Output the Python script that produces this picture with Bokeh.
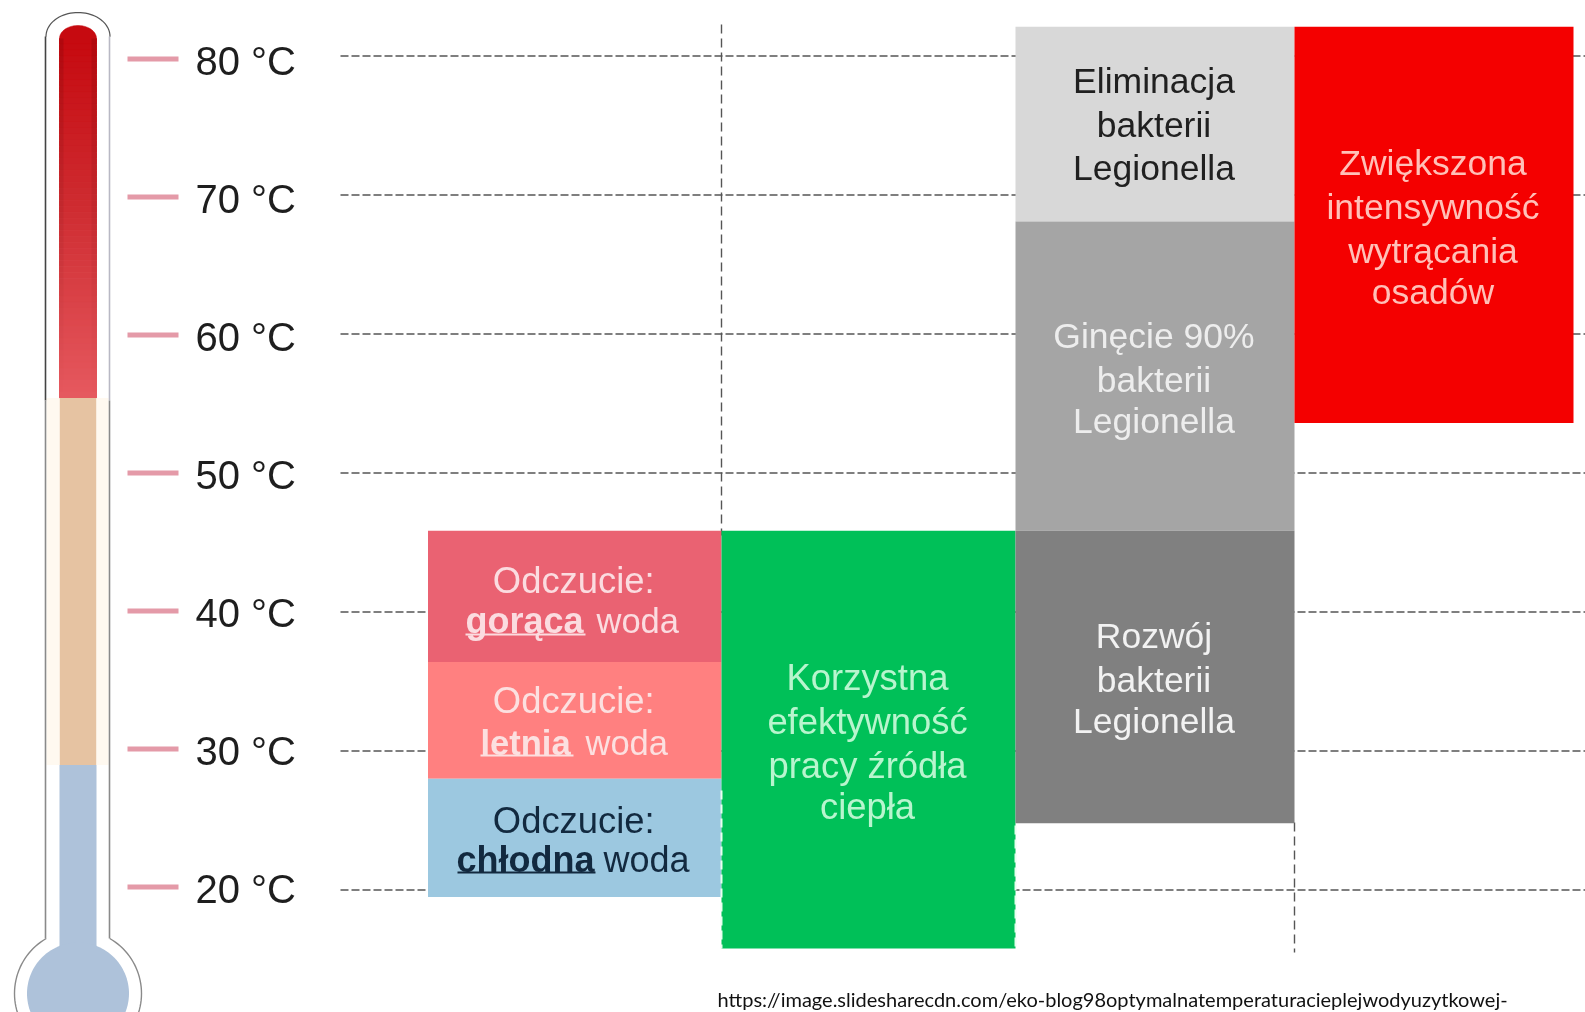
import math
from bokeh.plotting import figure
from bokeh.models import Range1d
from bokeh.core.properties import value
from bokeh.embed import file_html
from bokeh.resources import INLINE

# ---- data (temperatures in deg C) ----
tick_temps = [80, 70, 60, 50, 40, 30, 20]
tick_labels = ["80 °C", "70 °C", "60 °C", "50 °C", "40 °C", "30 °C", "20 °C"]

column_names = ["odczucie", "zrodlo", "legionella", "osady"]
column_left = [427.5, 721, 1015, 1294]
column_right = [721, 1015, 1294, 1573]

box_column = [0, 0, 0, 1, 2, 2, 2, 3]
box_top = [45.85, 36.4, 28.0, 45.85, 82.1, 68.1, 45.85, 82.1]
box_bottom = [36.4, 28.0, 19.5, 15.8, 68.1, 45.85, 24.8, 53.6]
box_color = ["#EA6272", "#FF8080", "#9CC8E0", "#00C058", "#D8D8D8", "#A5A5A5", "#808080", "#F40000"]

thermo_levels = [83.0, 55.4, 29.0, 11.0]
thermo_stops_hot = ["#C60A10", "#CE2B30", "#E65A60"]
thermo_warm = "#E6C3A2"
thermo_cold = "#AEC2DA"

W, H = 1585, 1012
PX_PER_DEG = 13.9
Y20 = 889.5


def T(py):
    return 20 + (Y20 - py) / PX_PER_DEG


p = figure(width=W, height=H, output_backend="svg", toolbar_location=None,
           x_range=Range1d(0, W), y_range=Range1d(T(H), T(0)),
           min_border=0, outline_line_color=None)
p.axis.visible = False
p.grid.visible = False
p.background_fill_color = "#FFFFFF"
p.border_fill_color = "#FFFFFF"
p.styles = {"position": "fixed", "left": "0px", "top": "0px"}

FONT = value("Liberation Sans")
GRID = "#555555"
DASH = "8 3"

# grid lines
p.segment(x0=[340] * 7, x1=[W] * 7, y0=tick_temps, y1=tick_temps,
          line_color=GRID, line_width=1.5, line_dash=DASH)
# vertical guides
p.segment(x0=[721, 1294], x1=[721, 1294],
          y0=[T(24), T(822)], y1=[T(535), T(952)],
          line_color=GRID, line_width=1.4, line_dash="9 5")

# boxes
p.quad(left=[column_left[c] for c in box_column],
       right=[column_right[c] for c in box_column],
       top=box_top, bottom=box_bottom, fill_color=box_color, line_color=None)
# dashed light edges of the green box
p.segment(x0=[721, 1015], x1=[721, 1015], y0=[T(790), T(825)], y1=[T(948), T(948)],
          line_color="#E8FFF0", line_width=2, line_dash="9 5")

# thermometer scale marks and labels (the scale sits slightly off the grid)
tick_py = [58.6 + (80 - t) * 13.8 for t in tick_temps]
label_py = [60.6 + (80 - t) * 13.8 for t in tick_temps]
p.segment(x0=[127] * 7, x1=[178] * 7, y0=[T(v) for v in tick_py], y1=[T(v) for v in tick_py],
          line_color="#E49AA8", line_width=5)
p.text(x=[195] * 7, y=[T(v) for v in label_py], text=tick_labels,
       text_font=FONT, text_font_size="40px", text_color="#1E1E1E",
       text_align="left", text_baseline="middle")

# thermometer fill
cx = 77.5
half = 18.5
n = 60
h1 = thermo_levels[1]
rgb = [tuple(int(s[i:i + 2], 16) for i in (1, 3, 5)) for s in thermo_stops_hot]
tops, bots, cols, side = [], [], [], []
ystart = T(38)
for i in range(n):
    a = i / n
    tops.append(ystart + (h1 - ystart) * a)
    bots.append(ystart + (h1 - ystart) * (i + 1) / n)
    seg = 0 if a < 0.45 else 1
    f = a / 0.45 if seg == 0 else (a - 0.45) / 0.55
    cols.append("#%02X%02X%02X" % tuple(round(rgb[seg][k] + (rgb[seg + 1][k] - rgb[seg][k]) * f) for k in range(3)))
    side.append(0.10 * (1 - a))
p.quad(left=cx - half, right=cx + half, top=tops, bottom=bots, fill_color=cols, line_color=cols, line_width=1)
angs = [math.pi * i / 40 for i in range(41)]
p.patch([cx + half * math.cos(a) for a in angs],
        [T(38 - 13 * math.sin(a)) for a in angs],
        fill_color=thermo_stops_hot[0], line_color=thermo_stops_hot[0], line_width=0.5)
# darker sides of the red part, fading downwards
p.quad(left=cx - half, right=cx - half + 4, top=tops, bottom=bots,
       fill_color="#000000", fill_alpha=side, line_color=None)
p.quad(left=cx + half - 5, right=cx + half, top=tops, bottom=bots,
       fill_color="#000000", fill_alpha=side, line_color=None)
p.quad(left=cx - half, right=cx + half, top=thermo_levels[1], bottom=thermo_levels[2],
       fill_color=thermo_warm, line_color=None)
p.quad(left=cx - half, right=cx + half, top=thermo_levels[2], bottom=thermo_levels[3],
       fill_color=thermo_cold, line_color=None)
# warm halo
p.quad(left=[46, cx + half], right=[cx - half, 108], top=thermo_levels[1], bottom=thermo_levels[2],
       fill_color="#FFF9F0", line_color=None)

# bulb
bulb_y = 993
b_angs = [math.radians(a) for a in range(-52, 233, 3)]
p.patch([cx + 51 * math.cos(a) for a in b_angs], [T(bulb_y - 51 * math.sin(a)) for a in b_angs],
        fill_color=thermo_cold, line_color=None)
bulb_r = 63.5
# tube outline
top_angs = [math.pi * i / 40 for i in range(41)]
tube_x = [109] + [cx + 32 * math.cos(a) for a in top_angs] + [45]
tube_y = [T(36)] + [T(36 - 24 * math.sin(a)) for a in top_angs] + [T(36)]
p.line(tube_x, tube_y, line_color="#555555", line_width=1.2)
p.segment(x0=[45, 45], x1=[45, 45], y0=[T(36), T(400)], y1=[T(400), T(938)],
          line_color=["#444444", "#8A8A8A"], line_width=1.6)
p.segment(x0=[109, 109], x1=[109, 109], y0=[T(36), T(400)], y1=[T(400), T(938)],
          line_color=["#B8B8C4", "#8A8A8A"], line_width=1.6)
left_arc = [math.radians(a) for a in range(120, 232, 3)]
right_arc = [math.radians(a) for a in range(60, -52, -3)]
for arc in (left_arc, right_arc):
    p.line([cx + bulb_r * math.cos(a) for a in arc],
           [T(bulb_y - bulb_r * math.sin(a)) for a in arc],
           line_color="#8A8A8A", line_width=1.4)


def block(col, lines, ypx, color, size=35.5, dx=-1):
    xc = (column_left[col] + column_right[col]) / 2 + dx
    p.text(x=[xc] * len(lines), y=[T(v) for v in ypx], text=lines,
           text_font=FONT, text_font_size=f"{size}px", text_color=color,
           text_align="center", text_baseline="middle")


block(2, ["Eliminacja", "bakterii", "Legionella"], [80, 124, 167], "#202020")
block(2, ["Ginęcie 90%", "bakterii", "Legionella"], [335, 379, 420], "#EDEDED")
block(2, ["Rozwój", "bakterii", "Legionella"], [635, 679, 720], "#F2F2F2")
block(3, ["Zwiększona", "intensywność", "wytrącania", "osadów"], [162, 206, 250, 291], "#FFC0B8")
block(1, ["Korzystna", "efektywność", "pracy źródła", "ciepła"], [677, 721, 765, 806], "#B8F5CE", size=36.4)
block(0, ["Odczucie:"], [580], "#FBDCE0", size=36.4)
block(0, ["Odczucie:"], [700], "#FCE0E0", size=36.4)
block(0, ["Odczucie:"], [820], "#12293F", size=36.4)


def mixed(bold, rest, x0, x1, ypx, color, bold_size=36, size=34.5):
    p.text(x=[x0], y=[T(ypx)], text=[bold], text_font=FONT, text_font_style="bold",
           text_font_size=f"{bold_size}px", text_color=color, text_align="left", text_baseline="middle")
    p.text(x=[x1], y=[T(ypx)], text=[rest], text_font=FONT,
           text_font_size=f"{size}px", text_color=color, text_align="left", text_baseline="middle")


mixed("gorąca", "woda", 465, 596, 620, "#FBDCE0")
mixed("letnia", "woda", 480, 585, 742, "#FCE0E0", bold_size=34.5)
mixed("chłodna", "woda", 456, 603, 859, "#12293F", size=36)
p.segment(x0=[465, 480, 457], x1=[585, 573, 595], y0=[T(634), T(755), T(872)], y1=[T(634), T(755), T(872)],
          line_color=["#FBDCE0", "#FCE0E0", "#12293F"], line_width=2)

# source
p.text(x=[717], y=[T(998)], text=["https://image.slidesharecdn.com/eko-blog98optymalnatemperaturacieplejwodyuzytkowej-"],
       text_font=value("Lato"), text_font_size="20px", text_color="#111111",
       text_align="left", text_baseline="middle")

open("out.html", "w").write(file_html(p, INLINE))
